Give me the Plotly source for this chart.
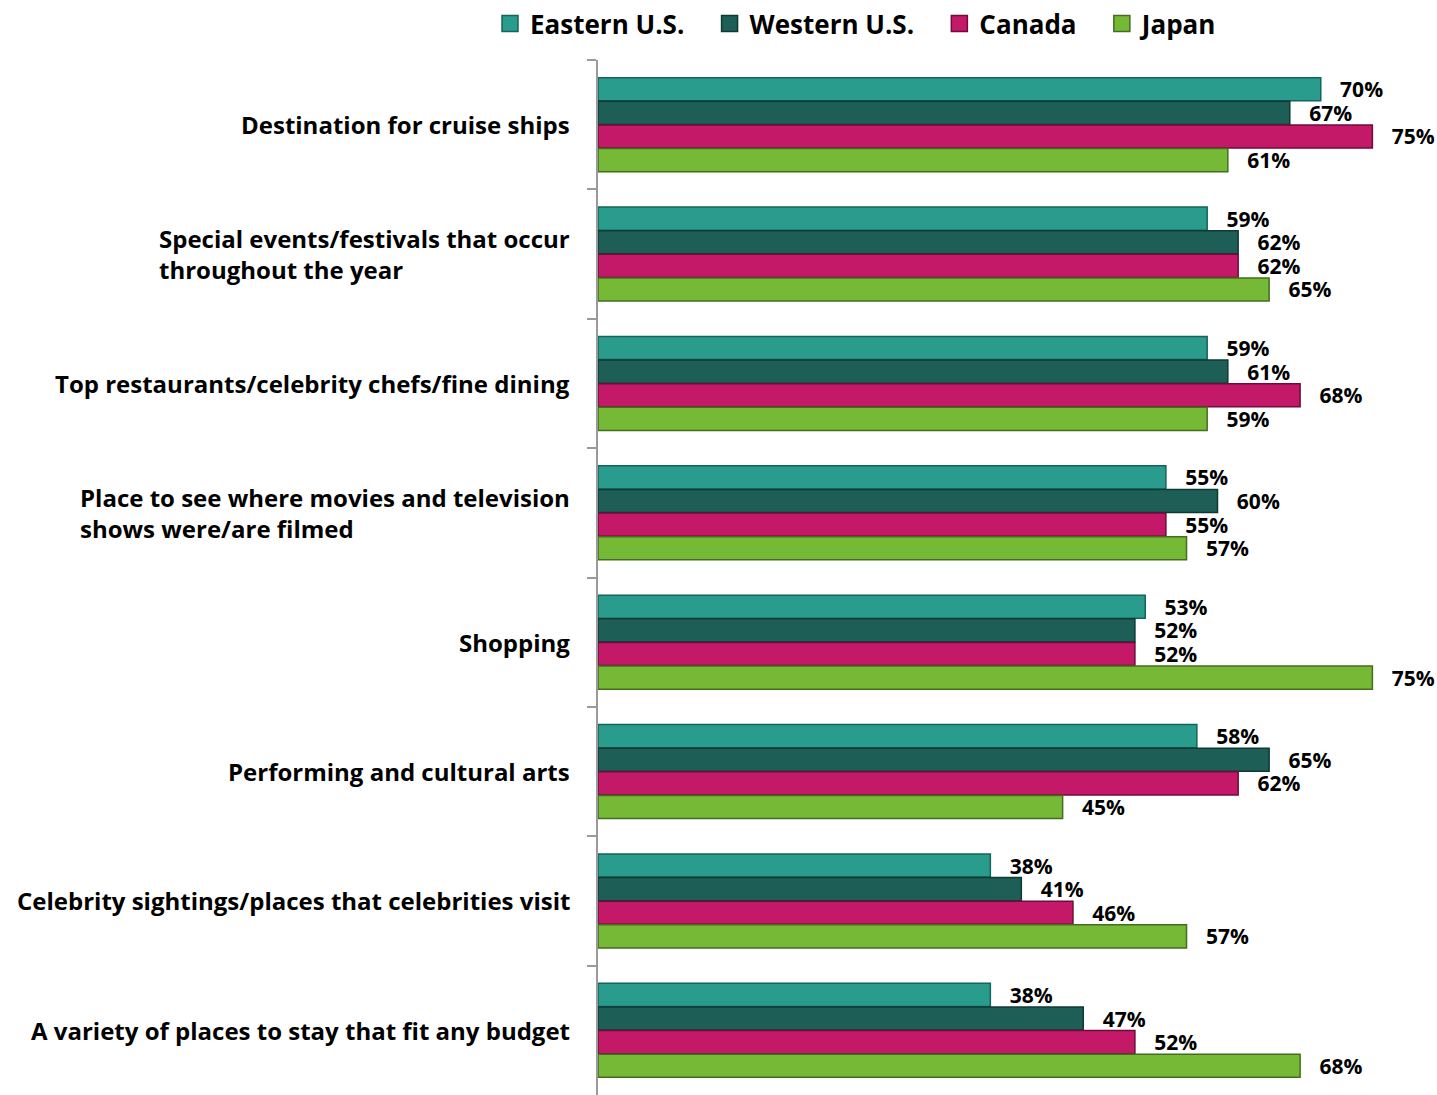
import plotly.graph_objects as go

categories = [
    "Destination for cruise ships",
    "Special events/festivals that occur<br>throughout the year",
    "Top restaurants/celebrity chefs/fine dining",
    "Place to see where movies and television<br>shows were/are filmed",
    "Shopping",
    "Performing and cultural arts",
    "Celebrity sightings/places that celebrities visit",
    "A variety of places to stay that fit any budget",
]
series_names = ["Eastern U.S.", "Western U.S.", "Canada", "Japan"]
eastern = [70, 59, 59, 55, 53, 58, 38, 38]
western = [67, 62, 61, 60, 52, 65, 41, 47]
canada = [75, 62, 68, 55, 52, 62, 46, 52]
japan = [61, 65, 59, 57, 75, 45, 57, 68]

values = [eastern, western, canada, japan]
fills = ["#2A9C8D", "#1D5F56", "#C41968", "#76B936"]
lines = ["#13645A", "#0E3A34", "#6E0C3A", "#456E1C"]

FONT = "Open Sans"
PAD = "\u00a0\u00a0\u00a0"

fig = go.Figure()
for name, vals, fc, lc in zip(series_names, values, fills, lines):
    fig.add_trace(go.Bar(
        y=categories,
        x=[v / 100 for v in vals],
        name=name,
        legendgroup=name,
        showlegend=False,
        orientation="h",
        marker=dict(color=fc, line=dict(color=lc, width=1.5)),
        text=[f"{PAD}{v}%" for v in vals],
        textposition="outside",
        constraintext="none",
        textfont=dict(family=FONT, size=21, color="black", weight="bold"),
        cliponaxis=False,
    ))

# legend entries with larger square swatches
for name, fc, lc in zip(series_names, fills, lines):
    fig.add_trace(go.Scatter(
        x=[None], y=[None], mode="markers", name=name + "\u00a0\u00a0\u00a0",
        legendgroup=name, showlegend=True,
        marker=dict(symbol="square", size=18, color=fc, line=dict(color=lc, width=1.5)),
    ))

for cat in categories:
    fig.add_annotation(
        x=0, xref="paper", y=cat, yref="y",
        text=cat, showarrow=False,
        xanchor="right", align="left", xshift=-26,
        font=dict(family=FONT, size=24, color="black", weight="bold"),
    )

fig.update_layout(
    width=1437, height=1095,
    barmode="group", bargap=0.27, bargroupgap=0.02,
    plot_bgcolor="white", paper_bgcolor="white",
    margin=dict(l=598, r=13, t=60, b=0, autoexpand=False),
    font=dict(family=FONT, color="black"),
    showlegend=True,
    legend=dict(
        orientation="h", x=0.603, xref="container", xanchor="center",
        y=1.0, yref="container", yanchor="top",
        font=dict(family=FONT, size=26, color="black", weight="bold"),
        itemwidth=30, itemsizing="trace", traceorder="normal", bgcolor="rgba(0,0,0,0)",
    ),
    uniformtext=dict(mode=False),
)
fig.update_xaxes(range=[0, 0.8], visible=False, showgrid=False, automargin=False)
fig.update_yaxes(
    categoryorder="array", categoryarray=categories, autorange="reversed",
    showticklabels=False, showgrid=False, automargin=False,
    showline=True, linecolor="#9a9a9a", linewidth=1.5,
    ticks="outside", tickson="boundaries", ticklen=9, tickcolor="#9a9a9a", tickwidth=1.5,
)

fig.write_html(
    "out.html",
    config={"displayModeBar": False},
    post_script="document.body.style.margin='0';document.body.style.overflow='hidden';",
)
